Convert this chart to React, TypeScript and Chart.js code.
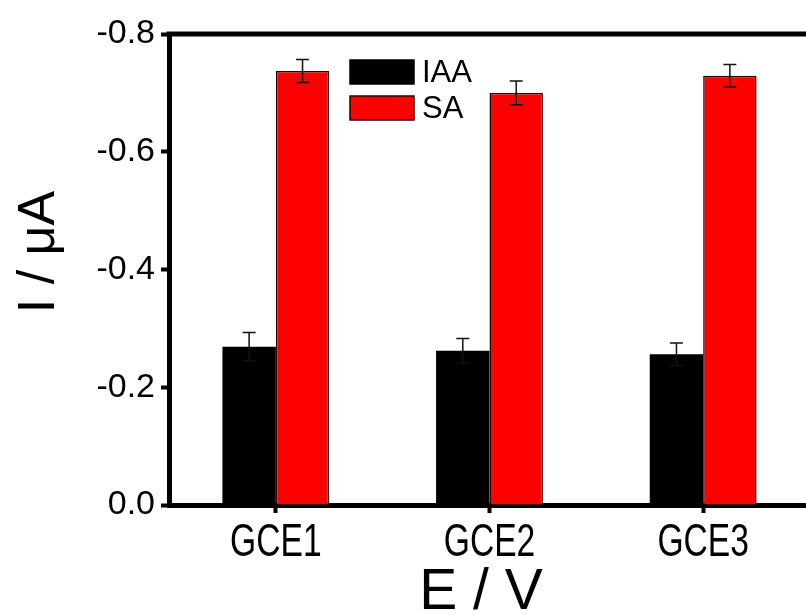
import React, { useEffect, useRef } from 'react';
import { Chart, registerables } from 'chart.js';
Chart.register(...registerables);

const categories = ['GCE1', 'GCE2', 'GCE3'];
const seriesNames = ['IAA', 'SA'];
const iaaValues = [-0.269, -0.262, -0.256];
const iaaErrors = [0.024, 0.021, 0.019];
const saValues = [-0.737, -0.7, -0.729];
const saErrors = [0.0195, 0.02, 0.019];
const seriesColors = ['#000000', '#ff0000'];
const seriesBorders = ['#000000', '#2a0000'];
const yMin = -0.8;
const yMax = 0;
const yStep = 0.2;
const xTitle = 'E / V';
const yTitle = 'I / \u03bcA';

const FONT = '"Liberation Sans", Arial, sans-serif';

const errorBarPlugin = {
  id: 'errorBars',
  afterDatasetsDraw(chart: any) {
    const ctx = chart.ctx;
    const yScale = chart.scales.y;
    const errs = [iaaErrors, saErrors];
    chart.data.datasets.forEach((ds: any, di: number) => {
      const meta = chart.getDatasetMeta(di);
      meta.data.forEach((bar: any, i: number) => {
        const v = ds.data[i];
        const e = errs[di][i];
        const yTop = yScale.getPixelForValue(v - e);
        const yBot = yScale.getPixelForValue(v + e);
        const x = bar.x;
        ctx.save();
        ctx.strokeStyle = '#111';
        ctx.lineWidth = 1.5;
        ctx.beginPath();
        ctx.moveTo(x, yTop);
        ctx.lineTo(x, yBot);
        ctx.moveTo(x - 6.5, yTop);
        ctx.lineTo(x + 6.5, yTop);
        ctx.moveTo(x - 6.5, yBot);
        ctx.lineTo(x + 6.5, yBot);
        ctx.stroke();
        ctx.restore();
      });
    });
  },
};

const decorPlugin = {
  id: 'decor',
  afterDraw(chart: any) {
    const ctx = chart.ctx;
    const area = chart.chartArea;
    const xScale = chart.scales.x;
    ctx.save();
    // top frame line
    ctx.strokeStyle = '#000';
    ctx.lineWidth = 5;
    ctx.beginPath();
    ctx.moveTo(area.left - 2.5, area.top);
    ctx.lineTo(area.right + 3, area.top);
    ctx.stroke();

    // x tick labels (condensed)
    ctx.fillStyle = '#000';
    ctx.font = `46px ${FONT}`;
    ctx.textAlign = 'center';
    ctx.textBaseline = 'alphabetic';
    categories.forEach((c, i) => {
      const x = xScale.getPixelForValue(i);
      ctx.save();
      ctx.translate(x, area.bottom + 51);
      ctx.scale(0.73, 1);
      ctx.fillText(c, 0, 0);
      ctx.restore();
    });

    // axis titles
    ctx.font = `57px ${FONT}`;
    ctx.textAlign = 'center';
    ctx.fillText(xTitle, 481, 609);
    ctx.save();
    ctx.translate(54, 252);
    ctx.rotate(-Math.PI / 2);
    ctx.font = `52px ${FONT}`;
    ctx.fillText(yTitle, 0, 0);
    ctx.restore();

    // legend
    const lx = area.left + 181;
    const ly = area.top + 26;
    seriesNames.forEach((n, i) => {
      const top = ly + i * 36;
      ctx.fillStyle = seriesColors[i];
      ctx.fillRect(lx, top, 64, 24);
      ctx.strokeStyle = seriesBorders[i];
      ctx.lineWidth = 1.5;
      ctx.strokeRect(lx, top, 64, 24);
      ctx.fillStyle = '#000';
      ctx.font = `31px ${FONT}`;
      ctx.textAlign = 'left';
      ctx.textBaseline = 'middle';
      ctx.fillText(n, lx + 72, top + 13);
    });
    ctx.restore();
  },
};

export default function App() {
  const ref = useRef<HTMLCanvasElement | null>(null);
  useEffect(() => {
    if (!ref.current) return;
    const chart = new Chart(ref.current, {
      type: 'bar',
      data: {
        labels: categories,
        datasets: [
          {
            label: seriesNames[0],
            data: iaaValues,
            backgroundColor: seriesColors[0],
            borderColor: seriesBorders[0],
            borderWidth: 0,
            categoryPercentage: 0.5,
            barPercentage: 1,
          },
          {
            label: seriesNames[1],
            data: saValues,
            backgroundColor: seriesColors[1],
            borderColor: seriesBorders[1],
            borderWidth: 1.5,
            categoryPercentage: 0.5,
            barPercentage: 1,
          },
        ],
      },
      options: {
        responsive: false,
        animation: false,
        layout: { padding: { left: 0, top: 34, right: 20, bottom: 0 } },
        plugins: { legend: { display: false }, tooltip: { enabled: false } },
        scales: {
          x: {
            z: 1,
            afterFit: (s: any) => {
              s.height = 110;
            },
            grid: {
              display: true,
              drawOnChartArea: false,
              drawTicks: true,
              tickLength: 8,
              tickWidth: 4,
              tickColor: '#000',
              offset: false,
            },
            border: { display: true, width: 5, color: '#000' },
            ticks: { display: false },
          },
          y: {
            z: 1,
            reverse: true,
            min: yMin,
            max: yMax,
            afterFit: (s: any) => {
              s.width = 169;
            },
            afterBuildTicks: (s: any) => {
              const t = [];
              for (let v = yMin; v <= yMax + 1e-9; v += yStep) t.push({ value: Math.round(v * 10) / 10 });
              s.ticks = t;
            },
            grid: {
              display: true,
              drawOnChartArea: false,
              drawTicks: true,
              tickLength: 8,
              tickWidth: 4,
              tickColor: '#000',
            },
            border: { display: true, width: 5, color: '#000' },
            ticks: {
              padding: 6,
              color: '#000',
              font: { family: FONT, size: 34 },
              callback: (v: any) => {
                const n = Number(v);
                return Math.abs(n) < 1e-9 ? '0.0' : n.toFixed(1);
              },
            },
          },
        },
      },
      plugins: [errorBarPlugin, decorPlugin],
    } as any);
    return () => chart.destroy();
  }, []);
  return (
    <div style={{ position: 'fixed', left: 0, top: 0, width: 806, height: 615, overflow: 'hidden', background: '#fff' }}>
      <canvas ref={ref} width={830} height={615} style={{ display: 'block' }} />
    </div>
  );
}
